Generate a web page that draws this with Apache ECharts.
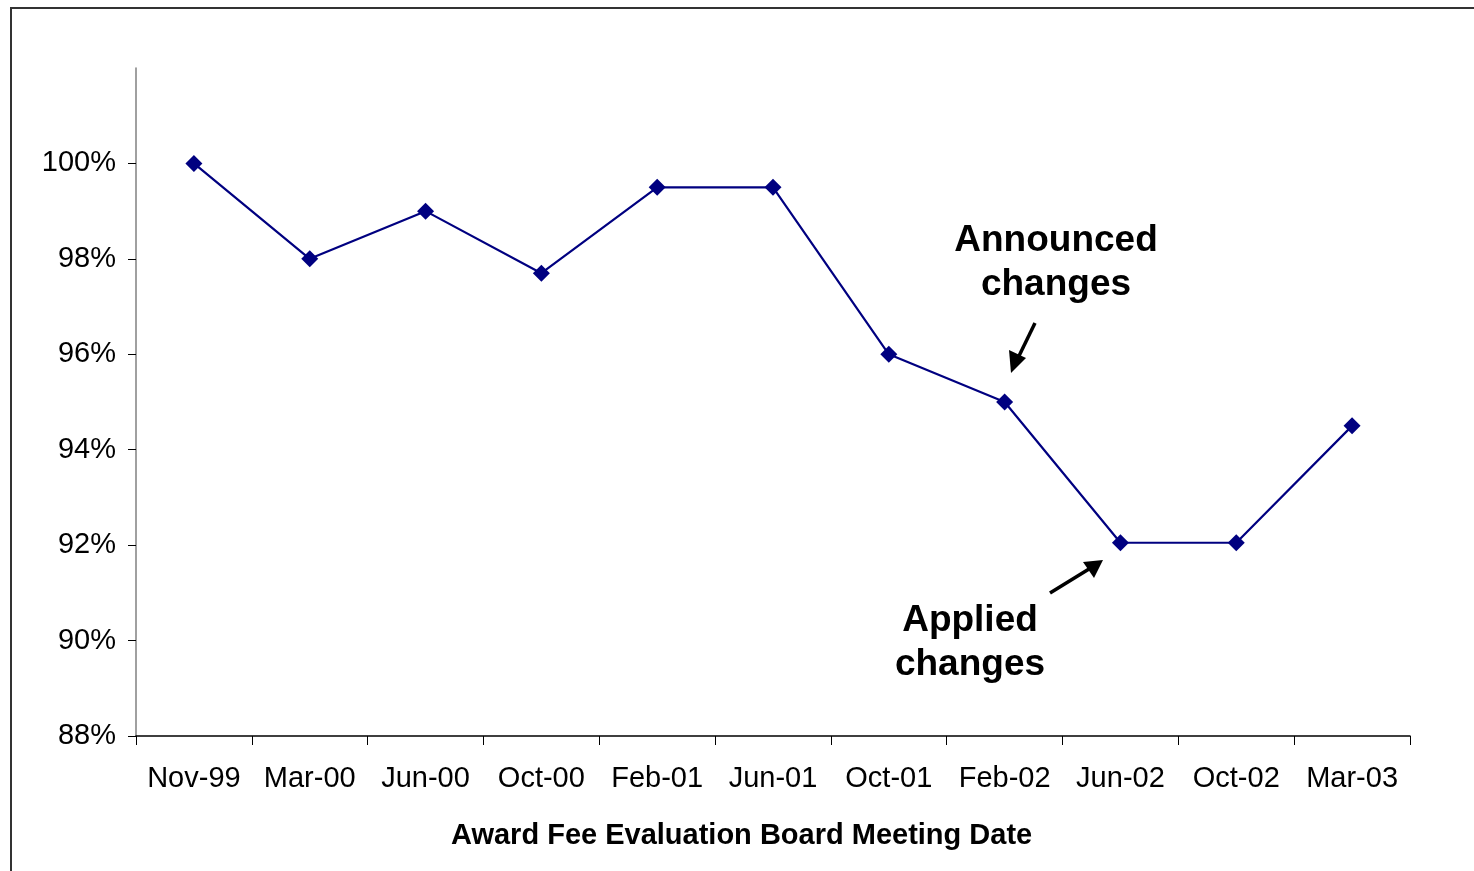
<!DOCTYPE html>
<html>
<head>
<meta charset="utf-8">
<script src="https://cdn.jsdelivr.net/npm/echarts@6/dist/echarts.min.js"></script>
<style>
  html, body { margin: 0; padding: 0; background: #fff; }
  #main { width: 1474px; height: 871px; }
  #frame { position: absolute; left: 10px; top: 7px; width: 1500px; height: 900px;
    border-left: 2px solid #333; border-top: 2px solid #333; pointer-events: none; }
</style>
</head>
<body>
<div id="main"></div>
<div id="frame"></div>
<script>
// meeting dates and fee scores (percent)
const dates = ['Nov-99', 'Mar-00', 'Jun-00', 'Oct-00', 'Feb-01', 'Jun-01',
  'Oct-01', 'Feb-02', 'Jun-02', 'Oct-02', 'Mar-03'];
const scores = [100, 98, 99, 97.7, 99.5, 99.5, 96, 95, 92.05, 92.05, 94.5];
const yTicks = [88, 90, 92, 94, 96, 98, 100];

const font = '"Liberation Sans", Arial, sans-serif';
var chart = echarts.init(document.getElementById('main'));

chart.setOption({
  animation: false,
  title: {
    text: 'Award Fee Evaluation Board Meeting Date',
    left: 446,
    top: 816,
    textStyle: { fontFamily: font, fontSize: 29, fontWeight: 'bold', color: '#000' }
  },
  grid: { left: 136, right: 64, top: 68, bottom: 135 },
  xAxis: {
    type: 'category',
    data: dates,
    boundaryGap: true,
    axisLine: { lineStyle: { color: '#000', width: 1.5 } },
    axisTick: { show: true, interval: 0, length: 9, lineStyle: { color: '#000' } },
    axisLabel: { interval: 0, hideOverlap: false, fontFamily: font, fontSize: 29, color: '#000', margin: 28 },
    splitLine: { show: false }
  },
  yAxis: {
    type: 'value',
    min: 88,
    max: 102,
    interval: 2,
    axisLine: { show: true, lineStyle: { color: '#808080', width: 1.5 } },
    axisTick: { show: true, length: 8, customValues: yTicks, lineStyle: { color: '#000' } },
    axisLabel: {
      fontFamily: font, fontSize: 29, color: '#000', margin: 20,
      customValues: yTicks,
      formatter: v => v + '%'
    },
    splitLine: { show: false }
  },
  series: [{
    type: 'line',
    data: scores,
    symbol: 'diamond',
    symbolSize: 17,
    lineStyle: { color: '#000080', width: 2.2 },
    itemStyle: { color: '#000080' }
  }],
  graphic: [
    {
      type: 'text', x: 1056, y: 263,
      style: { text: 'Announced\nchanges', font: 'bold 37px ' + font, fill: '#000',
        textAlign: 'center', textVerticalAlign: 'middle', lineHeight: 44 }
    },
    {
      type: 'text', x: 970, y: 643,
      style: { text: 'Applied\nchanges', font: 'bold 37px ' + font, fill: '#000',
        textAlign: 'center', textVerticalAlign: 'middle', lineHeight: 44 }
    },
    { type: 'line', shape: { x1: 1035, y1: 323, x2: 1018, y2: 358 },
      style: { stroke: '#000', lineWidth: 3.5 } },
    { type: 'polygon', shape: { points: [[1011, 373], [1009, 350], [1026, 358]] },
      style: { fill: '#000' } },
    { type: 'line', shape: { x1: 1050, y1: 593, x2: 1089, y2: 569 },
      style: { stroke: '#000', lineWidth: 3.5 } },
    { type: 'polygon', shape: { points: [[1103, 560], [1094, 578], [1083, 562]] },
      style: { fill: '#000' } }
  ]
});
</script>
</body>
</html>
